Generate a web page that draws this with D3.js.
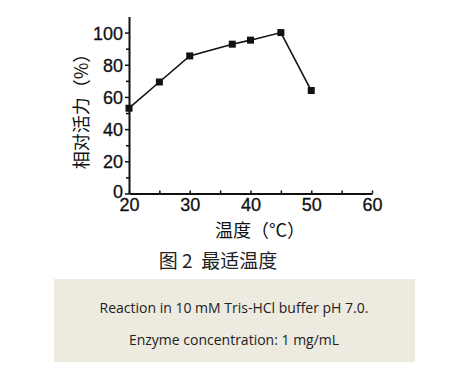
<!DOCTYPE html>
<html>
<head>
<meta charset="utf-8">
<script src="https://cdn.jsdelivr.net/npm/d3@7"></script>
<style>
  body { margin: 0; background: #fff; }
  svg { display: block; }
</style>
</head>
<body>
<div id="chart"></div>
<script>
// temperature (°C) vs relative activity (%)
var temps = [20, 25, 30, 37, 40, 45, 50];
var activity = [53, 69.3, 85.5, 92.8, 95.3, 100, 64];
var xTicks = [20, 30, 40, 50, 60];
var yTicks = [0, 20, 40, 60, 80, 100];
var noteLines = ["Reaction in 10 mM Tris-HCl buffer pH 7.0.", "Enzyme concentration: 1 mg/mL"];

var W = 472, H = 372;
var svg = d3.select("#chart").append("svg")
    .attr("width", W)
    .attr("height", H);

var x = d3.scaleLinear().domain([20, 60]).range([129, 372]);
var y = d3.scaleLinear().domain([0, 110]).range([193.5, 16.5]);

// minor ticks
svg.append("g")
    .attr("transform", "translate(0," + y(0) + ")")
    .call(d3.axisBottom(x).tickValues([25, 35, 45, 55]).tickSize(-3).tickFormat(""))
    .call(function (g) { g.select(".domain").remove(); g.selectAll("line").attr("stroke-width", 1.5); });
svg.append("g")
    .attr("transform", "translate(" + x(20) + ",0)")
    .call(d3.axisLeft(y).tickValues([10, 30, 50, 70, 90]).tickSize(3).tickFormat(""))
    .call(function (g) { g.select(".domain").remove(); g.selectAll("line").attr("stroke-width", 1.5); });

// major axes
var xAxis = svg.append("g")
    .attr("transform", "translate(0," + y(0) + ")")
    .call(d3.axisBottom(x).tickValues(xTicks).tickSize(-3).tickSizeOuter(0).tickPadding(6));
var yAxis = svg.append("g")
    .attr("transform", "translate(" + x(20) + ",0)")
    .call(d3.axisLeft(y).tickValues(yTicks).tickSize(4).tickSizeOuter(0).tickPadding(2));

[xAxis, yAxis].forEach(function (g) {
    g.select(".domain").attr("stroke", "#111").attr("stroke-width", 2);
    g.selectAll(".tick line").attr("stroke", "#111").attr("stroke-width", 1.5);
    g.selectAll("text")
        .attr("fill", "#111")
        .attr("stroke", "#111")
        .attr("stroke-width", 0.3)
        .style("font-family", "'Liberation Sans', Arial, sans-serif")
        .style("font-size", "18px");
});
xAxis.selectAll("text").attr("dy", "0.62em");
yAxis.selectAll("text").attr("dy", "0.36em");
yAxis.selectAll(".tick").filter(function (d) { return d === 0; }).select("text").attr("dy", "0.2em");

// line + markers
var line = d3.line()
    .x(function (d, i) { return x(temps[i]); })
    .y(function (d) { return y(d); });

svg.append("path")
    .datum(activity)
    .attr("d", line)
    .attr("fill", "none")
    .attr("stroke", "#111")
    .attr("stroke-width", 1.6);

svg.selectAll(".pt")
    .data(activity)
    .enter()
    .append("rect")
    .attr("class", "pt")
    .attr("x", function (d, i) { return x(temps[i]) - 3.5; })
    .attr("y", function (d) { return y(d) - 3.5; })
    .attr("width", 7)
    .attr("height", 7)
    .attr("fill", "#111");

// axis titles
svg.append("text")
    .attr("x", 260)
    .attr("y", 237)
    .attr("text-anchor", "middle")
    .style("font-family", "'Noto Sans CJK SC', sans-serif")
    .style("font-size", "18px")
    .attr("fill", "#111")
    .text("温度（°C）");

svg.append("text")
    .attr("transform", "translate(88,107) rotate(-90)")
    .attr("text-anchor", "middle")
    .style("font-family", "'Noto Sans CJK SC', sans-serif")
    .style("font-size", "18px")
    .attr("fill", "#111")
    .text("相对活力（%）");

// caption
svg.append("text")
    .attr("x", 218)
    .attr("y", 268)
    .attr("text-anchor", "middle")
    .style("font-family", "'Noto Sans CJK SC', sans-serif")
    .style("font-size", "19px")
    .attr("fill", "#222")
    .text("图\u00a02\u00a0\u00a0最适温度");

// note box
svg.append("rect")
    .attr("x", 54)
    .attr("y", 279)
    .attr("width", 361)
    .attr("height", 83)
    .attr("fill", "#edeae0");

svg.selectAll(".note")
    .data(noteLines)
    .enter()
    .append("text")
    .attr("class", "note")
    .attr("x", 234)
    .attr("y", function (d, i) { return 313 + i * 32; })
    .attr("text-anchor", "middle")
    .style("font-family", "'Open Sans', 'Noto Sans', sans-serif")
    .style("font-size", "14px")
    .attr("fill", "#222")
    .text(function (d) { return d; });
</script>
</body>
</html>
